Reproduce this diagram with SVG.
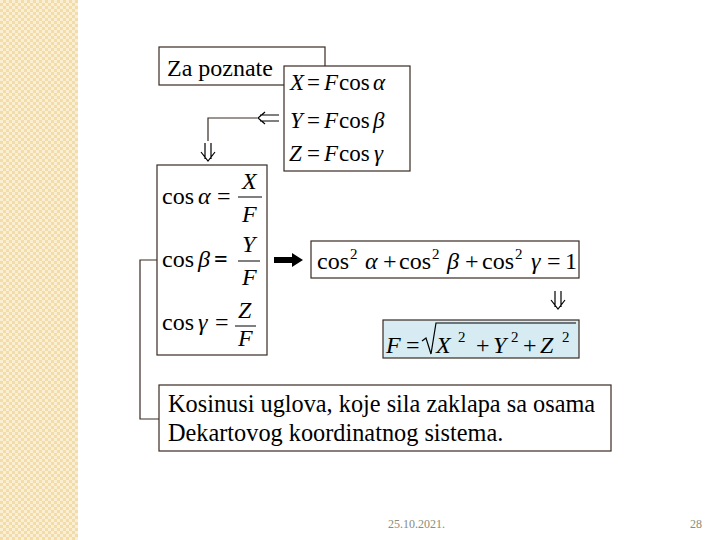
<svg xmlns="http://www.w3.org/2000/svg" width="720" height="540" viewBox="0 0 720 540">
<defs>
<pattern id="chk" width="6" height="6" patternUnits="userSpaceOnUse">
<rect width="6" height="6" fill="#f1dcaa"/>
<rect width="3" height="3" fill="#fbefd3"/>
<rect x="3" y="3" width="3" height="3" fill="#fbefd3"/>
</pattern>
</defs>
<style>
.box{fill:#fff;stroke:#3b2a22;stroke-width:1.2}
.t{font-family:"Liberation Serif",serif;font-size:24px;fill:#000}
.s{font-size:23px}
.p{font-size:24.3px}
.i{font-style:italic}
.sup{font-size:15px}
.ln{fill:none;stroke:#3b2a22;stroke-width:1.2}
.ar{fill:none;stroke:#000;stroke-width:1.2}
.fr{stroke:#000;stroke-width:1}
.ft{font-family:"Liberation Serif",serif;font-size:12px;fill:#8d8b78}
</style>
<rect x="0" y="0" width="78" height="540" fill="url(#chk)"/>
<rect x="78" y="0" width="642" height="540" fill="#fff"/>

<g id="connectors">
<path class="ln" d="M257,118 H208 V141"/>
<path class="ar" d="M265,112 L258,118 L265,124 M260,115 H279 M260,121 H279"/>
<path class="ar" d="M205,143 V159 M211,143 V159 M201,152 L208,161 L215,152"/>
<path class="ln" d="M157,260 H140 V419 H159"/>
<path d="M274,257 H292 V253 L303,260 L292,267 V263 H274 Z" fill="#000"/>
<path class="ar" d="M555,291 V307 M561,291 V307 M551,300 L558,309 L565,300"/>
</g>

<g id="n-zapoznate">
<rect class="box" x="159" y="47" width="166" height="38"/>
<text class="t" x="167" y="76">Za poznate</text>
</g>

<g id="n-xyz">
<rect class="box" x="284" y="66" width="126" height="105"/>
<text class="t s"><tspan class="i" x="290" y="90">X</tspan><tspan x="307" y="90">=</tspan><tspan class="i" x="324" y="90">F</tspan><tspan x="339" y="90">cos</tspan><tspan class="i" x="373" y="90">α</tspan></text>
<text class="t s"><tspan class="i" x="290" y="128">Y</tspan><tspan x="307" y="128">=</tspan><tspan class="i" x="324" y="128">F</tspan><tspan x="339" y="128">cos</tspan><tspan class="i" x="373" y="128">β</tspan></text>
<text class="t s"><tspan class="i" x="289" y="161">Z</tspan><tspan x="307" y="161">=</tspan><tspan class="i" x="324" y="161">F</tspan><tspan x="339" y="161">cos</tspan><tspan class="i" x="374" y="161">γ</tspan></text>
</g>

<g id="n-cos">
<rect class="box" x="157" y="165" width="110" height="190"/>
<text class="t"><tspan x="162" y="204">cos</tspan><tspan class="i" x="198" y="204">α</tspan><tspan x="217" y="204">=</tspan></text>
<text class="t i" x="242" y="189">X</text>
<line class="fr" x1="238" y1="197" x2="262" y2="197"/>
<text class="t i" x="242" y="222">F</text>

<text class="t"><tspan x="162" y="267">cos</tspan><tspan class="i" x="198" y="267">β</tspan><tspan x="214" y="267" font-weight="bold">=</tspan></text>
<text class="t i" x="242" y="252">Y</text>
<line class="fr" x1="238" y1="261" x2="260" y2="261"/>
<text class="t i" x="242" y="285">F</text>

<text class="t"><tspan x="162" y="330">cos</tspan><tspan class="i" x="198" y="330">γ</tspan><tspan x="215" y="330">=</tspan></text>
<text class="t i" x="238" y="318">Z</text>
<line class="fr" x1="235" y1="326" x2="256" y2="326"/>
<text class="t i" x="238" y="346">F</text>
</g>

<g id="n-sum">
<rect class="box" x="311" y="241" width="268" height="37"/>
<text class="t"><tspan x="317" y="269">cos</tspan><tspan class="sup" x="350" y="259">2</tspan><tspan class="i" x="365" y="269">α</tspan><tspan x="383" y="269">+</tspan><tspan x="399" y="269">cos</tspan><tspan class="sup" x="432" y="259">2</tspan><tspan class="i" x="447" y="269">β</tspan><tspan x="465" y="269">+</tspan><tspan x="482" y="269">cos</tspan><tspan class="sup" x="515" y="259">2</tspan><tspan class="i" x="531" y="269">γ</tspan><tspan x="547" y="269">=</tspan><tspan x="565" y="269">1</tspan></text>
</g>

<g id="n-F">
<rect class="box" x="383" y="320" width="196" height="38" style="fill:#d6ebf2"/>
<text class="t"><tspan class="i" x="386" y="353">F</tspan><tspan x="406" y="353">=</tspan><tspan class="i" x="436" y="353">X</tspan><tspan class="sup" x="458" y="342">2</tspan><tspan x="476" y="353">+</tspan><tspan class="i" x="493" y="353">Y</tspan><tspan class="sup" x="511" y="342">2</tspan><tspan x="523" y="353">+</tspan><tspan class="i" x="540" y="353">Z</tspan><tspan class="sup" x="562" y="342">2</tspan></text>
<path d="M422,341 L426,338 L431,354 L436,323 H576" fill="none" stroke="#000" stroke-width="1.2"/>
</g>

<g id="n-text">
<rect class="box" x="159" y="385" width="452" height="66"/>
<text class="t p" x="168" y="412">Kosinusi uglova, koje sila zaklapa sa osama</text>
<text class="t p" x="168" y="441">Dekartovog koordinatnog sistema.</text>
</g>

<text class="ft" x="388" y="528">25.10.2021.</text>
<text class="ft" x="690" y="528">28</text>
</svg>
